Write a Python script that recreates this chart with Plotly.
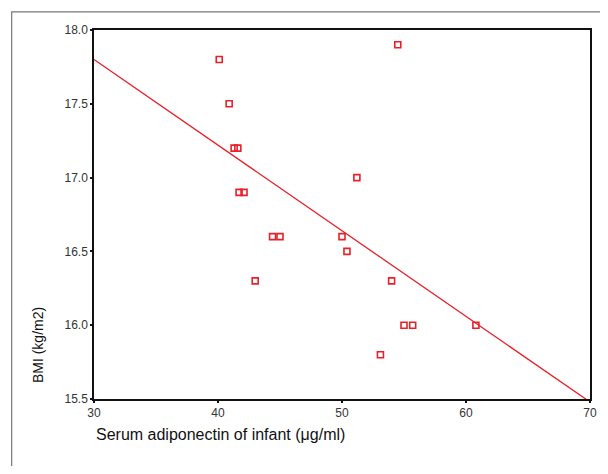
import plotly.graph_objects as go

adiponectin = [40.1, 40.9, 41.3, 41.6, 41.7, 42.1, 44.4, 45.0, 43.0, 54.5, 51.2, 50.0, 50.4, 54.0, 55.0, 55.7, 53.1, 60.8]
bmi = [17.8, 17.5, 17.2, 17.2, 16.9, 16.9, 16.6, 16.6, 16.3, 17.9, 17.0, 16.6, 16.5, 16.3, 16.0, 16.0, 15.8, 16.0]
fit_x = [30, 70]
fit_y = [17.8, 15.48]
x_ticks = [30, 40, 50, 60, 70]
y_ticks = [15.5, 16.0, 16.5, 17.0, 17.5, 18.0]

fig = go.Figure()
fig.add_trace(go.Scatter(x=fit_x, y=fit_y, mode="lines",
                         line=dict(color="#e8202a", width=1.3), hoverinfo="skip"))
fig.add_trace(go.Scatter(x=adiponectin, y=bmi, mode="markers",
                         marker=dict(symbol="square-open", size=6, color="#e8202a",
                                     line=dict(width=1.6, color="#e8202a"))))

fig.update_layout(
    width=592, height=458, showlegend=False,
    margin=dict(l=86, r=3, t=22, b=67),
    paper_bgcolor="white", plot_bgcolor="white",
    font=dict(family="Liberation Sans, Arial", color="#222"),
    xaxis=dict(range=[30, 70], tickvals=x_ticks, ticktext=[str(v) for v in x_ticks],
               showgrid=False, zeroline=False, showline=True, linecolor="#111", linewidth=1.5,
               mirror=True, ticks="outside", ticklen=2, tickwidth=2, tickcolor="#111",
               ticklabeloverflow="allow",
               tickfont=dict(size=12, color="#333")),
    yaxis=dict(range=[15.5, 18.0], tickvals=y_ticks, ticktext=[f"{v:.1f}" for v in y_ticks],
               showgrid=False, zeroline=False, showline=True, linecolor="#111", linewidth=1.5,
               mirror=True, ticks="outside", ticklen=2, tickwidth=2, tickcolor="#111",
               ticklabeloverflow="allow",
               tickfont=dict(size=12, color="#333")),
    shapes=[dict(type="rect", xref="paper", yref="paper", x0=-0.166, x1=1.05, y0=-0.3, y1=1.049,
                 line=dict(color="#777", width=1.2))],
    annotations=[
        dict(text="Serum adiponectin of infant (μg/ml)", xref="paper", yref="paper",
             x=0, y=-0.068, xanchor="left", yanchor="top", showarrow=False,
             font=dict(size=16, color="#111")),
        dict(text="BMI (kg/m2)", xref="paper", yref="paper", textangle=-90,
             x=-0.113, y=0.146, xanchor="center", yanchor="middle", showarrow=False,
             font=dict(size=14, color="#111")),
    ],
)
fig.write_html("out.html", config={"displayModeBar": False})
